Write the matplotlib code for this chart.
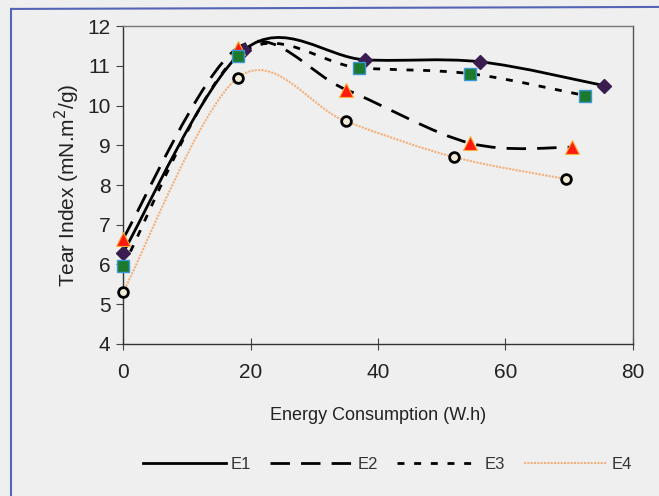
import numpy as np
import matplotlib.pyplot as plt
from matplotlib.lines import Line2D
from matplotlib.path import Path
from matplotlib.patches import PathPatch

# data points (energy W.h, tear index)
e1_x = [0, 19, 38, 56, 75.5]
e1_y = [6.3, 11.4, 11.15, 11.1, 10.5]
e2_x = [0, 18, 35, 54.5, 70.5]
e2_y = [6.65, 11.45, 10.4, 9.05, 8.95]
e3_x = [0, 18, 37, 54.5, 72.5]
e3_y = [5.95, 11.25, 10.95, 10.8, 10.25]
e4_x = [0, 18, 35, 52, 69.5]
e4_y = [5.3, 10.7, 9.6, 8.7, 8.15]

names = ["E1", "E2", "E3", "E4"]
x_ticks = [0, 20, 40, 60, 80]
y_ticks = [4, 5, 6, 7, 8, 9, 10, 11, 12]

plt.rcParams["font.family"] = ["Liberation Sans", "DejaVu Sans"]


def smooth_path(x, y):
    # spreadsheet style "smoothed line": cubic bezier through the points
    p = np.column_stack([x, y]).astype(float)
    n = len(p)
    verts = [p[0]]
    codes = [Path.MOVETO]
    for i in range(n - 1):
        prev = p[i - 1] if i > 0 else p[i]
        nxt = p[i + 2] if i + 2 < n else p[i + 1]
        c1 = p[i] + (p[i + 1] - prev) / 6
        c2 = p[i + 1] - (nxt - p[i]) / 6
        verts += [c1, c2, p[i + 1]]
        codes += [Path.CURVE4] * 3
    return Path(verts, codes)


def main():
    bg = "#efefef"
    fig = plt.figure(figsize=(6.59, 4.96), dpi=100, facecolor=bg)
    ax = fig.add_axes([0.1867, 0.3065, 0.7738, 0.641])
    ax.set_facecolor(bg)

    line_styles = [
        dict(color="black", linestyle="-", linewidth=2.0),
        dict(color="black", linestyle=(0, (7, 4)), linewidth=2.0),
        dict(color="black", linestyle=(0, (2.5, 3.5)), linewidth=2.0),
        dict(color="#f4b07a", linestyle=(0, (1, 0.6)), linewidth=1.5),
    ]
    markers = [
        dict(marker="D", markersize=7, markerfacecolor="#3a1d4e", markeredgecolor="#3a1d4e"),
        dict(marker="^", markersize=10, markerfacecolor="#ff1a10", markeredgecolor="#f7b43a", markeredgewidth=0.8),
        dict(marker="s", markersize=9, markerfacecolor="#1d7a2c", markeredgecolor="#3a98d8", markeredgewidth=1.0),
        dict(marker="o", markersize=7, markerfacecolor="#f2ead8", markeredgecolor="black", markeredgewidth=2.0),
    ]

    series = [(e1_x, e1_y), (e2_x, e2_y), (e3_x, e3_y), (e4_x, e4_y)]
    for (x, y), ls in zip(series, line_styles):
        patch = PathPatch(smooth_path(x, y), facecolor="none", edgecolor=ls["color"],
                          linestyle=ls["linestyle"], linewidth=ls["linewidth"], zorder=2)
        ax.add_patch(patch)
    for (x, y), mk in zip(series, markers):
        ax.plot(x, y, linestyle="none", zorder=3, clip_on=False, **mk)

    ax.set_xlim(0, 80)
    ax.set_ylim(4, 12)
    ax.set_xticks(x_ticks)
    ax.set_yticks(y_ticks)
    ax.tick_params(labelsize=15, length=5, color="#444444", pad=4, labelcolor="#222222")
    ax.tick_params(axis="x", direction="inout", length=8, pad=10)

    ax.spines["left"].set_color("#333333")
    ax.spines["bottom"].set_color("#333333")
    ax.spines["top"].set_color("#777777")
    ax.spines["right"].set_color("#555555")
    for s in ax.spines.values():
        s.set_linewidth(1.0)

    ax.set_xlabel("Energy Consumption (W.h)", fontsize=13, color="#222222", labelpad=18)
    ax.set_ylabel("Tear Index (mN.m$^2$/g)", fontsize=15, color="#222222", labelpad=4)

    handles = [Line2D([], [], **ls) for ls in line_styles]
    fig.legend(handles, names, loc="center", bbox_to_anchor=(0.588, 0.063), ncol=4,
               frameon=False, handlelength=5.0, handletextpad=0.3, columnspacing=1.1,
               prop=dict(size=12), labelcolor="#333333")

    # blue frame of the original figure box
    fig.add_artist(Line2D([0.017, 1.0], [0.982, 0.986], color="#5565b5", linewidth=1.5))
    fig.add_artist(Line2D([0.017, 0.017], [0.982, 0.0], color="#5565b5", linewidth=1.5))

    fig.savefig("out.png", dpi=100, facecolor=bg)
    plt.close(fig)


if __name__ == "__main__":
    main()
